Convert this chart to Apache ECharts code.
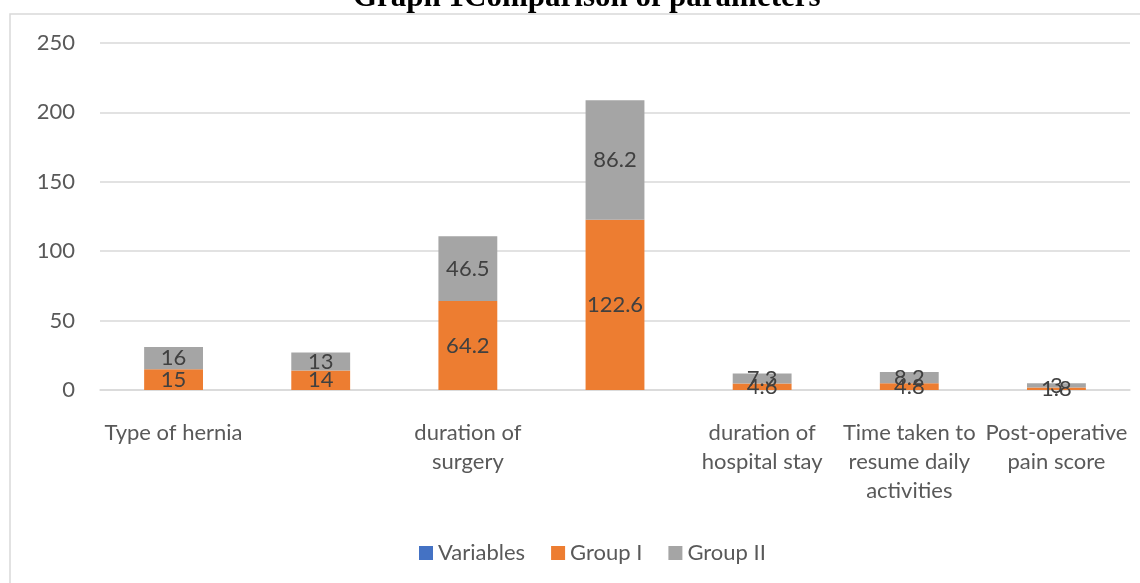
<!DOCTYPE html>
<html>
<head>
<meta charset="utf-8">
<script src="https://cdn.jsdelivr.net/npm/echarts@6/dist/echarts.min.js"></script>
<style>
html,body{margin:0;padding:0;background:#fff;}
#main{width:1140px;height:583px;}
</style>
</head>
<body>
<div id="main"></div>
<script>
var categories = ['Type of hernia', '', 'duration of\nsurgery', '', 'duration of\nhospital stay', 'Time taken to\nresume daily\nactivities', 'Post-operative\npain score'];
var variables = [];
var group1 = [15, 14, 64.2, 122.6, 4.6, 4.8, 1.8];
var group2 = [16, 13, 46.5, 86.2, 7.3, 8.2, 3];

var chart = echarts.init(document.getElementById('main'));
var font = 'Lato';
var dataLabel = {
    show: true,
    position: 'inside',
    fontFamily: font,
    fontSize: 22,
    color: '#404040'
};
var option = {
    animation: false,
    title: {
        text: 'Graph 1Comparison of parameters',
        left: 348,
        top: -23,
        textStyle: {
            fontFamily: 'Liberation Serif',
            fontWeight: 'bold',
            fontSize: 31,
            color: '#000'
        }
    },
    graphic: [{
        type: 'rect',
        shape: {x: 10, y: 14, width: 1140, height: 580},
        style: {fill: 'none', stroke: '#d9d9d9', lineWidth: 1.5},
        silent: true
    }],
    legend: {
        data: ['Variables', 'Group I', 'Group II'],
        bottom: 14,
        left: 414,
        itemWidth: 14,
        itemHeight: 14,
        itemGap: 26,
        icon: 'rect',
        textStyle: {fontFamily: font, fontSize: 22, color: '#595959'}
    },
    grid: {
        left: 100,
        right: 10,
        top: 43,
        bottom: 193
    },
    xAxis: {
        type: 'category',
        data: categories,
        axisLine: {lineStyle: {color: '#d9d9d9', width: 1.5}},
        axisTick: {show: false},
        axisLabel: {
            interval: 0,
            margin: 28,
            fontFamily: font,
            fontSize: 22,
            lineHeight: 29,
            color: '#595959'
        }
    },
    yAxis: {
        type: 'value',
        min: 0,
        max: 250,
        interval: 50,
        axisLine: {show: false},
        axisTick: {show: false},
        splitLine: {lineStyle: {color: '#d9d9d9', width: 1.5}},
        axisLabel: {
            margin: 25,
            fontFamily: font,
            fontSize: 22,
            color: '#595959'
        }
    },
    series: [
        {
            name: 'Variables',
            type: 'bar',
            stack: 'total',
            barWidth: '40%',
            itemStyle: {color: '#4472C4'},
            data: variables
        },
        {
            name: 'Group I',
            type: 'bar',
            stack: 'total',
            barWidth: '40%',
            itemStyle: {color: '#ED7D31'},
            label: dataLabel,
            data: group1
        },
        {
            name: 'Group II',
            type: 'bar',
            stack: 'total',
            barWidth: '40%',
            itemStyle: {color: '#A5A5A5'},
            label: dataLabel,
            data: group2
        }
    ]
};
chart.setOption(option);
</script>
</body>
</html>
